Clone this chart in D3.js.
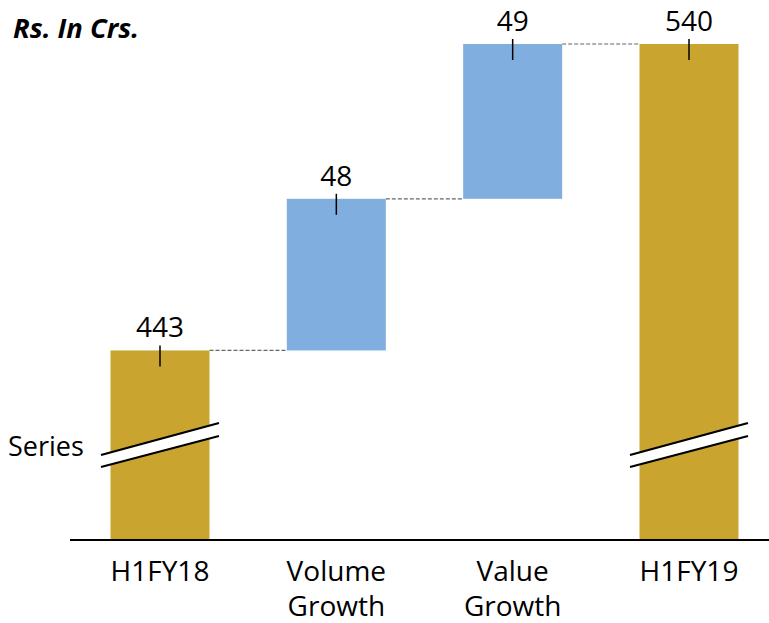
<!DOCTYPE html>
<html><head><meta charset="utf-8">
<script src="https://cdn.jsdelivr.net/npm/d3@7"></script>
<style>body{margin:0;background:#fff}text{font-family:"Open Sans","Noto Sans",sans-serif}</style>
</head><body><svg id="c" width="769" height="623"></svg>
<script>
const categories = [["H1FY18"], ["Volume", "Growth"], ["Value", "Growth"], ["H1FY19"]];
const values = [443, 48, 49, 540];
const kinds = ["total", "delta", "delta", "total"];
const unitLabel = "Rs. In Crs.";
const legendLabel = "Series";

const svg = d3.select("#c");
const W = 769, H = 623;
const axisY = 540;
const x = d3.scalePoint().domain(d3.range(values.length)).range([160, 689]);
const bw = 99;
const y = d3.scaleLinear().domain([383, 540]).range([axisY, 44]);

// compute waterfall
let run = 0;
const bars = values.map((v, i) => {
  let lo, hi;
  if (kinds[i] === "total") { lo = null; hi = v; run = v; }
  else { lo = run; hi = run + v; run = hi; }
  return { i, v, lo, hi, kind: kinds[i] };
});

const gold = "#C9A52F", blue = "#80AEDE";

// connectors
for (let i = 0; i < bars.length - 1; i++) {
  const yv = bars[i].hi;
  svg.append("line")
    .attr("x1", x(i) + bw / 2).attr("x2", x(i + 1) - bw / 2)
    .attr("y1", y(yv)).attr("y2", y(yv))
    .attr("stroke", "#666").attr("stroke-width", 1.2).attr("stroke-dasharray", "4,2");
}

svg.selectAll("rect.bar").data(bars).enter().append("rect")
  .attr("x", d => x(d.i) - bw / 2)
  .attr("width", bw)
  .attr("y", d => y(d.hi))
  .attr("height", d => (d.lo === null ? axisY : y(d.lo)) - y(d.hi))
  .attr("fill", d => d.kind === "total" ? gold : blue);

// break marks on totals
bars.filter(d => d.kind === "total").forEach(d => {
  const cx = x(d.i);
  const x1 = cx - 59, xr = cx + 59;
  svg.append("path")
    .attr("d", `M${x1},${455}L${xr},${423}L${xr},${436}L${x1},${467}Z`)
    .attr("fill", "#fff");
  [[455, 423], [467, 436]].forEach(([a, b]) => {
    svg.append("line").attr("x1", x1).attr("y1", a).attr("x2", xr).attr("y2", b)
      .attr("stroke", "#000").attr("stroke-width", 2.2);
  });
});

// value labels and tick markers
bars.forEach(d => {
  const cx = x(d.i), ty = y(d.hi);
  svg.append("line").attr("x1", cx).attr("x2", cx).attr("y1", ty - 5).attr("y2", ty + 16)
    .attr("stroke", "#000").attr("stroke-width", 1.5);
  svg.append("text").attr("x", cx).attr("y", ty - 13).attr("text-anchor", "middle")
    .attr("font-size", 28).attr("fill", "#000").text(d.v);
});

// axis line
svg.append("line").attr("x1", 70).attr("x2", W).attr("y1", axisY).attr("y2", axisY)
  .attr("stroke", "#000").attr("stroke-width", 2);

// category labels
categories.forEach((lines, i) => {
  const t = svg.append("text").attr("x", x(i)).attr("y", 581).attr("text-anchor", "middle")
    .attr("font-size", 28).attr("fill", "#000");
  lines.forEach((l, k) => t.append("tspan").attr("x", x(i)).attr("dy", k ? 35 : 0).text(l));
});

svg.append("text").attr("x", 13).attr("y", 38).attr("font-size", 26)
  .attr("font-weight", "bold").attr("font-style", "italic")
  .attr("textLength", 126).attr("lengthAdjust", "spacingAndGlyphs").text(unitLabel);
svg.append("text").attr("x", 8).attr("y", 456).attr("font-size", 27).text(legendLabel);
</script></body></html>
